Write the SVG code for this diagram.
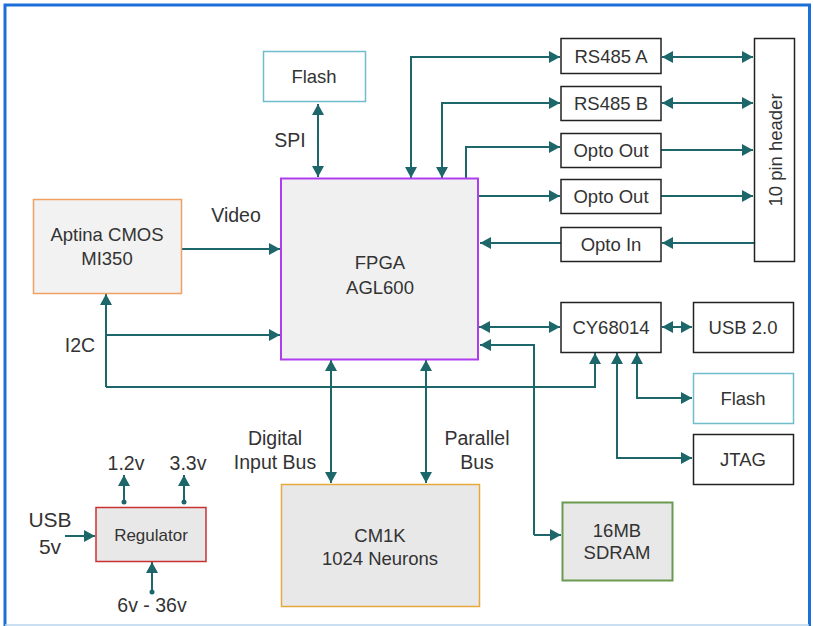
<svg xmlns="http://www.w3.org/2000/svg" width="813" height="626" viewBox="0 0 813 626">
<style>
  text { font-family: "Liberation Sans", Arial, sans-serif; fill: #333; }
  .bx { font-size: 18.5px; text-anchor: middle; }
  .lb { font-size: 19.5px; text-anchor: middle; }
  .c { fill: none; stroke: #1d6669; stroke-width: 2; }
  .plain { fill: #fff; stroke: #222; stroke-width: 1.5; }
  .flash { fill: #fff; stroke: #6fbccc; stroke-width: 1.5; }
</style>
<defs>
  <marker id="a" markerUnits="userSpaceOnUse" markerWidth="12" markerHeight="12" refX="11" refY="6" orient="auto-start-reverse">
    <path d="M0,0 L11,6 L0,12 z" fill="#1d6669"/>
  </marker>
  <marker id="d" markerUnits="userSpaceOnUse" markerWidth="6" markerHeight="6" refX="3" refY="3">
    <circle cx="3" cy="3" r="2.5" fill="#1d6669"/>
  </marker>
</defs>
<rect width="813" height="626" fill="#fff"/>
<path d="M5,626 V5 H809.5 V626" fill="none" stroke="#1a6fd8" stroke-width="3"/>
<line x1="5" y1="625" x2="809" y2="625" stroke="#b8d4ec" stroke-width="1.5"/>

<g id="connectors">
  <path class="c" d="M318,104 V177" marker-start="url(#a)" marker-end="url(#a)"/>
  <path class="c" d="M411,178 V57 H560" marker-start="url(#a)" marker-end="url(#a)"/>
  <path class="c" d="M442,178 V103 H560" marker-start="url(#a)" marker-end="url(#a)"/>
  <path class="c" d="M466,178 V147 H560" marker-end="url(#a)"/>
  <path class="c" d="M479,196 H560" marker-end="url(#a)"/>
  <path class="c" d="M561,243 H480" marker-end="url(#a)"/>
  <path class="c" d="M662,57 H753" marker-start="url(#a)" marker-end="url(#a)"/>
  <path class="c" d="M662,103 H753" marker-start="url(#a)" marker-end="url(#a)"/>
  <path class="c" d="M661,150 H753" marker-end="url(#a)"/>
  <path class="c" d="M661,196 H753" marker-end="url(#a)"/>
  <path class="c" d="M754,243 H662" marker-end="url(#a)"/>
  <path class="c" d="M181,249 H280" marker-end="url(#a)"/>
  <path class="c" d="M106,387 V294" marker-end="url(#a)"/>
  <path class="c" d="M106,335 H280" marker-end="url(#a)"/>
  <path class="c" d="M106,387 H595 V353" marker-end="url(#a)"/>
  <path class="c" d="M479,327 H560" marker-start="url(#a)" marker-end="url(#a)"/>
  <path class="c" d="M662,327 H692" marker-start="url(#a)" marker-end="url(#a)"/>
  <path class="c" d="M534,535 V345 H480" marker-end="url(#a)"/>
  <path class="c" d="M534,535 H561" marker-end="url(#a)"/>
  <path class="c" d="M637,353 V398 H692" marker-start="url(#a)" marker-end="url(#a)"/>
  <path class="c" d="M617,353 V458 H692" marker-start="url(#a)" marker-end="url(#a)"/>
  <path class="c" d="M331,360 V483" marker-start="url(#a)" marker-end="url(#a)"/>
  <path class="c" d="M426,360 V483" marker-start="url(#a)" marker-end="url(#a)"/>
  <path class="c" d="M124,502 V475" marker-start="url(#d)" marker-end="url(#a)"/>
  <path class="c" d="M184,502 V475" marker-start="url(#d)" marker-end="url(#a)"/>
  <path class="c" d="M152,592 V562" marker-start="url(#d)" marker-end="url(#a)"/>
  <path class="c" d="M65,536 H95" marker-end="url(#a)"/>
</g>

<g id="labels">
  <text class="lb" x="290" y="147">SPI</text>
  <text class="lb" x="236" y="222">Video</text>
  <text class="lb" x="80" y="352">I2C</text>
  <text class="lb" x="275" y="445">Digital</text>
  <text class="lb" x="275" y="469">Input Bus</text>
  <text class="lb" x="477" y="445">Parallel</text>
  <text class="lb" x="477" y="469">Bus</text>
  <text class="lb" x="126" y="470">1.2v</text>
  <text class="lb" x="188" y="470">3.3v</text>
  <text class="lb" x="152" y="612">6v - 36v</text>
  <text class="lb" x="50" y="527" style="font-size:21px">USB</text>
  <text class="lb" x="50" y="554" style="font-size:21px">5v</text>
</g>

<g id="flash1"><rect class="flash" x="263.5" y="51.5" width="102" height="50"/><text class="bx" x="314" y="83">Flash</text></g>
<g id="fpga"><rect x="281" y="178.5" width="197" height="181" fill="#f0f0f0" stroke="#b03cf0" stroke-width="2"/><text class="bx" x="380" y="269">FPGA</text><text class="bx" x="380" y="294">AGL600</text></g>
<g id="rs485a"><rect class="plain" x="561" y="38.5" width="100" height="35"/><text class="bx" x="611" y="63">RS485 A</text></g>
<g id="rs485b"><rect class="plain" x="561" y="86.5" width="100" height="34"/><text class="bx" x="611" y="110">RS485 B</text></g>
<g id="optoout1"><rect class="plain" x="561" y="133.5" width="100" height="34"/><text class="bx" x="611" y="157">Opto Out</text></g>
<g id="optoout2"><rect class="plain" x="561" y="179.5" width="100" height="34"/><text class="bx" x="611" y="203">Opto Out</text></g>
<g id="optoin"><rect class="plain" x="561" y="227.5" width="100" height="34"/><text class="bx" x="611" y="251">Opto In</text></g>
<g id="header"><rect class="plain" x="754.5" y="38.5" width="40" height="223"/><text class="bx" transform="translate(782,150) rotate(-90)">10 pin header</text></g>
<g id="aptina"><rect x="33.5" y="199.5" width="148" height="94" fill="#f2f2f2" stroke="#f0a060" stroke-width="1.5"/><text class="bx" x="107" y="241">Aptina CMOS</text><text class="bx" x="107" y="265">MI350</text></g>
<g id="cy68014"><rect class="plain" x="561" y="302.5" width="100" height="50"/><text class="bx" x="611" y="334">CY68014</text></g>
<g id="usb20"><rect class="plain" x="693.5" y="302.5" width="100" height="50"/><text class="bx" x="743" y="334">USB 2.0</text></g>
<g id="flash2"><rect class="flash" x="693.5" y="373.5" width="100" height="50"/><text class="bx" x="743" y="405">Flash</text></g>
<g id="jtag"><rect class="plain" x="693.5" y="434.5" width="100" height="50"/><text class="bx" x="743" y="466">JTAG</text></g>
<g id="cm1k"><rect x="281.5" y="484.5" width="198" height="122" fill="#e8e8e8" stroke="#e8a840" stroke-width="1.5"/><text class="bx" x="380" y="542">CM1K</text><text class="bx" x="380" y="565">1024 Neurons</text></g>
<g id="sdram"><rect x="562.5" y="502.5" width="110" height="78" fill="#e8e8e8" stroke="#6a9a50" stroke-width="2"/><text class="bx" x="617" y="537">16MB</text><text class="bx" x="617" y="559">SDRAM</text></g>
<g id="regulator"><rect x="96" y="507.5" width="110" height="54" fill="#e8e8e8" stroke="#c83232" stroke-width="1.5"/><text class="bx" x="151" y="541" style="font-size:17px">Regulator</text></g>
</svg>
